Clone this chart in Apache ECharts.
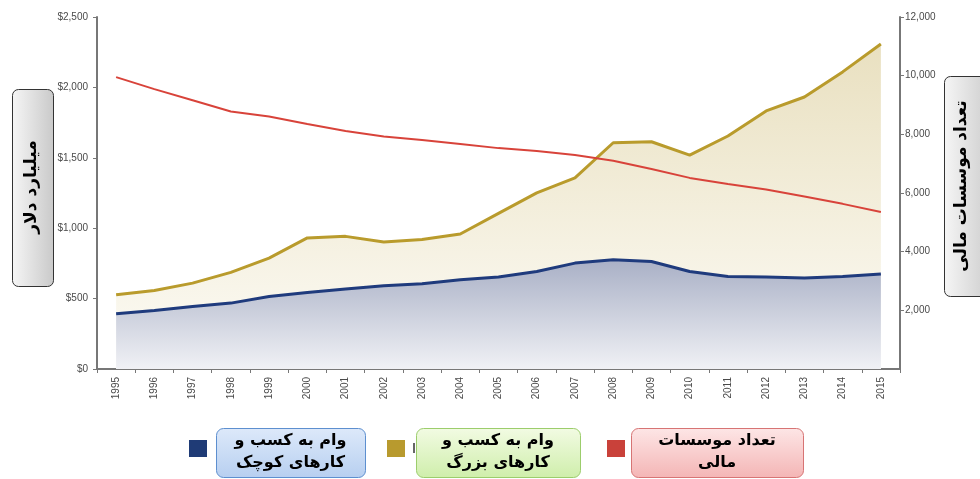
<!DOCTYPE html>
<html>
<head>
<meta charset="utf-8">
<script src="https://cdn.jsdelivr.net/npm/echarts@6/dist/echarts.min.js"></script>
<style>
html,body{margin:0;padding:0;background:#fff;}
#main{width:980px;height:479px;}
</style>
</head>
<body>
<div id="main"></div>
<script>
var years = ['1995','1996','1997','1998','1999','2000','2001','2002','2003','2004','2005','2006','2007','2008','2009','2010','2011','2012','2013','2014','2015'];
var smallBizLoans = [392, 415, 444, 468, 515, 543, 568, 591, 605, 634, 653, 693, 752, 776, 764, 693, 657, 653, 646, 657, 674];
var largeBizLoans = [527, 558, 610, 686, 788, 931, 942, 902, 919, 959, 1105, 1251, 1358, 1607, 1614, 1519, 1655, 1833, 1932, 2110, 2308];
var institutions = [9950, 9540, 9160, 8780, 8610, 8350, 8110, 7930, 7805, 7670, 7530, 7430, 7295, 7100, 6820, 6515, 6310, 6120, 5880, 5630, 5350];

var leftAxisTitle = 'میلیارد دلار';
var rightAxisTitle = 'تعداد موسسات مالی';
var legendNames = ['وام به کسب و\nکارهای کوچک', 'وام به کسب و\nکارهای بزرگ', 'تعداد موسسات\nمالی'];

var chart = echarts.init(document.getElementById('main'), null, {renderer: 'canvas'});
var axisFont = {fontFamily: '"Liberation Sans", Arial, sans-serif', fontSize: 10, color: '#4a4a4a'};
var boldAr = '"DejaVu Sans", "Noto Sans", sans-serif';

function lg(c1, c2, horiz) {
  return new echarts.graphic.LinearGradient(0, 0, horiz ? 1 : 0, horiz ? 0 : 1, [{offset: 0, color: c1}, {offset: 1, color: c2}]);
}

function legendItem(sqX, boxX, boxW, sqColor, c1, c2, border, text) {
  return [
    {type: 'rect', left: sqX, top: 440, shape: {width: 18, height: 17}, style: {fill: sqColor}},
    {type: 'rect', left: boxX, top: 428, shape: {width: boxW, height: 49, r: 7},
      style: {fill: lg(c1, c2, false), stroke: border, lineWidth: 1}},
    {type: 'text', x: boxX + boxW / 2, y: 452,
      style: {text: text, fill: '#000', font: 'bold 16px ' + boldAr, align: 'center', verticalAlign: 'middle', lineHeight: 22}}
  ];
}

var graphics = [];
// left axis title box
graphics.push({type: 'rect', left: 12, top: 89, shape: {width: 41, height: 197, r: 6},
  style: {fill: lg('#f6f6f6', '#c9c9c9', true), stroke: '#333', lineWidth: 1}});
graphics.push({type: 'text', x: 32, y: 187, rotation: Math.PI / 2,
  style: {text: leftAxisTitle, fill: '#000', font: 'bold 17px ' + boldAr, align: 'center', verticalAlign: 'middle'}});
// right axis title box
graphics.push({type: 'rect', left: 944, top: 76, shape: {width: 50, height: 220, r: 6},
  style: {fill: lg('#f6f6f6', '#c9c9c9', true), stroke: '#333', lineWidth: 1}});
graphics.push({type: 'text', x: 962, y: 186, rotation: Math.PI / 2,
  style: {text: rightAxisTitle, fill: '#000', font: 'bold 17px ' + boldAr, align: 'center', verticalAlign: 'middle'}});

graphics = graphics
  .concat(legendItem(189, 216, 149, '#1f3b76', '#dde9fa', '#b7cff0', '#5d8fcf', legendNames[0]))
  .concat(legendItem(387, 416, 164, '#b89a2e', '#f2fbe3', '#cfeeab', '#9ccd6c', legendNames[1]))
  .concat(legendItem(607, 631, 172, '#c9413a', '#fde6e6', '#f4b5b5', '#d77474', legendNames[2]));
graphics.push({type: 'rect', left: 413, top: 443, shape: {width: 2, height: 10}, style: {fill: '#666'}});

var option = {
  animation: false,
  backgroundColor: '#fff',
  grid: {left: 97, right: 80, top: 17, bottom: 110, containLabel: false},
  xAxis: {
    type: 'category',
    data: years,
    boundaryGap: true,
    axisLine: {lineStyle: {color: '#777', width: 2}},
    axisTick: {show: true, length: 4, lineStyle: {color: '#777'}},
    axisLabel: Object.assign({rotate: 90, margin: 8, interval: 0}, axisFont),
    splitLine: {show: false}
  },
  yAxis: [
    {
      type: 'value', min: 0, max: 2500, interval: 500, position: 'left',
      axisLine: {show: true, lineStyle: {color: '#777', width: 2}},
      axisTick: {show: true, length: 4, lineStyle: {color: '#777'}},
      axisLabel: Object.assign({margin: 9, formatter: function (v) { return '$' + v.toLocaleString('en-US'); }}, axisFont),
      splitLine: {show: false}
    },
    {
      type: 'value', min: 0, max: 12000, interval: 2000, position: 'right',
      axisLine: {show: true, lineStyle: {color: '#777', width: 2}},
      axisTick: {show: true, length: 4, lineStyle: {color: '#777'}},
      axisLabel: Object.assign({margin: 5, showMinLabel: false, formatter: function (v) { return v.toLocaleString('en-US'); }}, axisFont),
      splitLine: {show: false}
    }
  ],
  series: [
    {
      name: 'large', type: 'line', data: largeBizLoans, yAxisIndex: 0, symbol: 'none', z: 1,
      lineStyle: {color: '#b99b2c', width: 3},
      areaStyle: {color: lg('#e9e0c0', '#fdfcf7', false), opacity: 1}
    },
    {
      name: 'small', type: 'line', data: smallBizLoans, yAxisIndex: 0, symbol: 'none', z: 2,
      lineStyle: {color: '#1f3b7d', width: 3},
      areaStyle: {color: lg('#a9b0c6', '#f0f1f5', false), opacity: 1}
    },
    {
      name: 'inst', type: 'line', data: institutions, yAxisIndex: 1, symbol: 'none', z: 3,
      lineStyle: {color: '#d8433a', width: 2}
    }
  ],
  graphic: graphics
};
chart.setOption(option);
</script>
</body>
</html>
